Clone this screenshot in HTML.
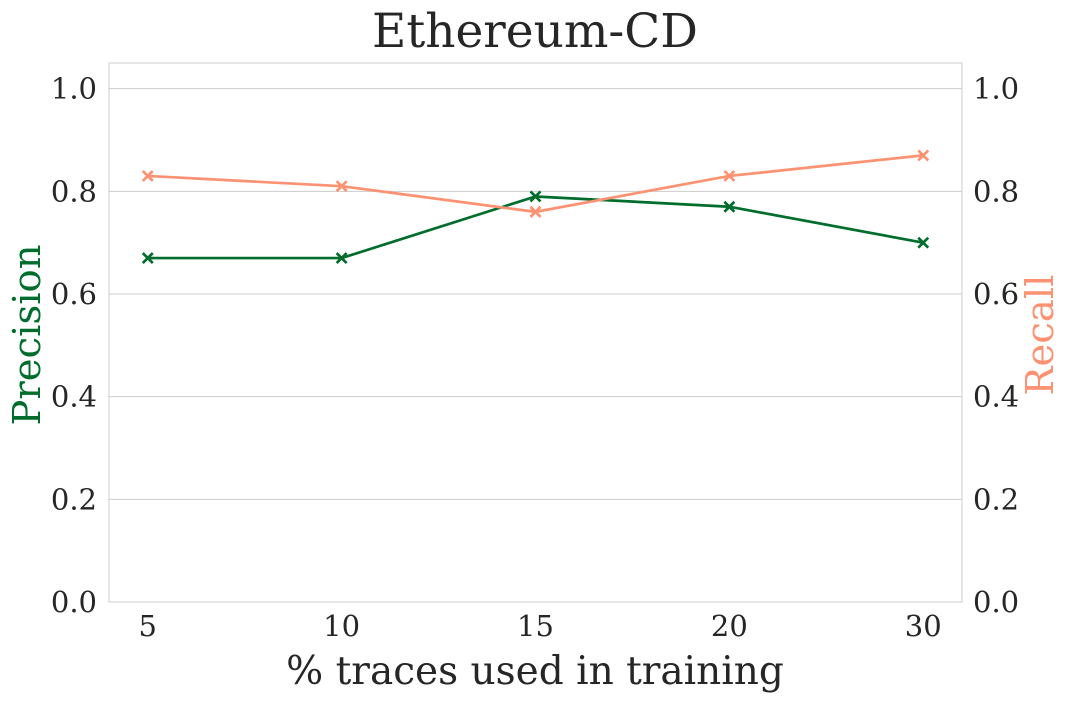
<!DOCTYPE html>
<html><head><meta charset="utf-8"><style>
html,body{margin:0;padding:0;background:#fff;}
svg text{font-family:"DejaVu Serif","Liberation Serif",serif;fill:#262626;}
</style></head><body>
<svg id="chart" width="1069" height="702" viewBox="0 0 1069 702" xmlns="http://www.w3.org/2000/svg">
<text x="535" y="47" text-anchor="middle" font-size="47">Ethereum-CD</text>
<g id="grid"></g>
<rect x="109" y="63" width="853" height="539" fill="none" stroke="#cccccc" stroke-width="1"/>
<g id="axes"></g>
<g id="series"></g>
<text x="535" y="684" text-anchor="middle" font-size="39">% traces used in training</text>
<text transform="translate(40,335) rotate(-90)" text-anchor="middle" font-size="38.5" style="fill:#006d2c">Precision</text>
<text transform="translate(1053,335) rotate(-90)" text-anchor="middle" font-size="38.5" style="fill:#fc9272">Recall</text>
</svg>
<script>
const categories = ["5","10","15","20","30"];
const precision = [0.67,0.67,0.79,0.77,0.70];
const recall = [0.83,0.81,0.76,0.83,0.87];
const yTicks = [0,0.2,0.4,0.6,0.8,1.0];
const yTickLabels = ["0.0","0.2","0.4","0.6","0.8","1.0"];

const L=109,R=962,T=63,B=602;
const xS=i=>L+(i+0.2)/4.4*(R-L);
const yS=v=>B-v/1.05*(B-T);
const NS="http://www.w3.org/2000/svg";
function mk(tag,attrs,parent){const e=document.createElementNS(NS,tag);for(const k in attrs)e.setAttribute(k,attrs[k]);parent.appendChild(e);return e;}
const grid=document.getElementById('grid'),axes=document.getElementById('axes'),series=document.getElementById('series');
yTicks.forEach((v,i)=>{
  const y=yS(v);
  const g=mk('line',{x1:L,x2:R,y1:y,y2:y,stroke:'#cccccc','stroke-width':1},grid);
  
  
  const tl=mk('text',{x:L-12,y:y+10,'text-anchor':'end','font-size':29},axes);
  tl.textContent=yTickLabels[i];
  
  
  const tr=mk('text',{x:R+11,y:y+10,'text-anchor':'start','font-size':29},axes);
  tr.textContent=yTickLabels[i];
  
  
});
categories.forEach((c,i)=>{
  const t=mk('text',{x:xS(i),y:636,'text-anchor':'middle','font-size':29},axes);
  t.textContent=c;
  
  
});
function drawSeries(vals,color,name){
  const p=mk('polyline',{points:vals.map((v,i)=>xS(i)+','+yS(v)).join(' '),fill:'none',stroke:color,'stroke-width':2.7},series);
  
  
  vals.forEach((v,i)=>{
    const x=xS(i),y=yS(v),s=5;
    const m=mk('path',{d:`M${x-s},${y-s}L${x+s},${y+s}M${x-s},${y+s}L${x+s},${y-s}`,stroke:color,'stroke-width':2.7},series);
    
    
  });
}
drawSeries(precision,'#006d2c','precision');
drawSeries(recall,'#fc9272','recall');
</script>
</body></html>
